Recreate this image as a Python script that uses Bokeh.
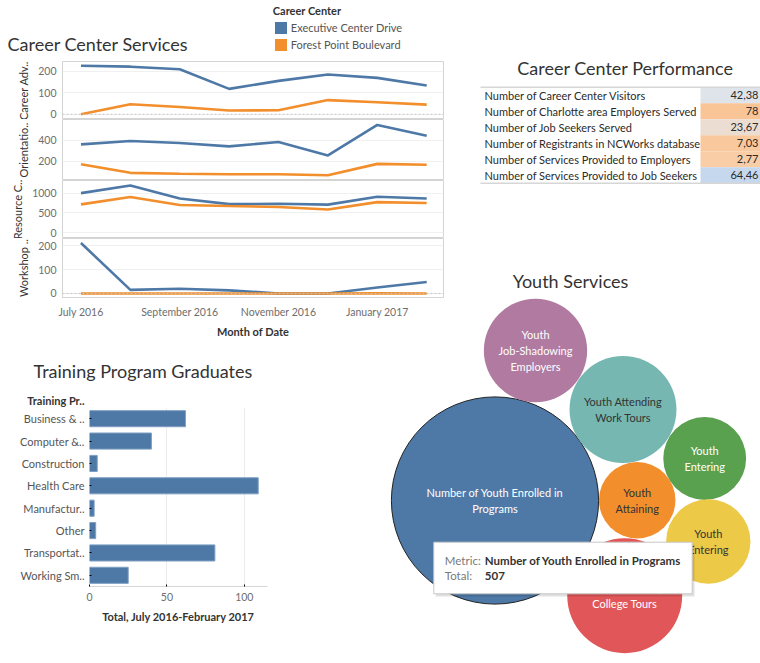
import math
from bokeh.plotting import figure
from bokeh.models import Range1d, FactorRange, FixedTicker, Span, GridBox, Title, Legend, LegendItem
from bokeh.layouts import column
from bokeh.embed import file_html
from bokeh.resources import INLINE
from bokeh.core.properties import value

# ---------------- data ----------------
months = ["Jul 2016", "Aug 2016", "Sep 2016", "Oct 2016", "Nov 2016", "Dec 2016", "Jan 2017", "Feb 2017"]
month_tick_months = ["Jul 2016", "Sep 2016", "Nov 2016", "Jan 2017"]
month_tick_labels = ["July 2016", "September 2016", "November 2016", "January 2017"]
centers = ["Executive Center Drive", "Forest Point Boulevard"]
service_names = ["Career Adv..", "Orientatio..", "Resource C..", "Workshop .."]

career_adv_exec = [225, 221, 209, 118, 155, 185, 169, 134]
career_adv_forest = [0, 47, 34, 18, 19, 66, 56, 45]
orientation_exec = [361, 393, 374, 342, 384, 255, 548, 445]
orientation_forest = [171, 88, 79, 74, 74, 65, 174, 165]
resource_exec = [1000, 1193, 865, 721, 730, 708, 908, 865]
resource_forest = [715, 901, 700, 672, 650, 586, 772, 751]
workshop_exec = [212, 15, 20, 13, 0, 0, 25, 48]
workshop_forest = [0, 0, 0, 0, 0, 0, 1, 0]

perf_metrics = [
    "Number of Career Center Visitors",
    "Number of Charlotte area Employers Served",
    "Number of Job Seekers Served",
    "Number of Registrants in NCWorks database",
    "Number of Services Provided to Employers",
    "Number of Services Provided to Job Seekers",
]
perf_values = ["42,38", "78", "23,67", "7,03", "2,77", "64,46"]

training_programs = ["Business & ..", "Computer &..", "Construction", "Health Care",
                     "Manufactur..", "Other", "Transportat..", "Working Sm.."]
training_totals = [62, 40, 5, 109, 3, 4, 81, 25]

youth_metrics = ["Number of Youth Enrolled in\nPrograms", "Youth\nJob-Shadowing\nEmployers",
                 "Youth Attending\nWork Tours", "Youth\nEntering", "Youth\nAttaining",
                 "Youth\nEntering", "Youth Attending\nCollege Tours"]
youth_totals = [507, 126, 135, 81, 69, 84, 156]
tooltip_metric = "Number of Youth Enrolled in Programs"
tooltip_total = "507"

# ---------------- styles / layout ----------------
FONT = "Lato"
BLUE = "#4e79a7"
ORANGE = "#f28e2b"
TITLE_C = "#333333"
TICK_C = "#6e6e6e"
TICK_SIZE = "10.5px"
NAN = float("nan")
perf_colors = ["#dfe4ea", "#f9c597", "#ecddd2", "#f9c99d", "#f9cea7", "#c6d8ee"]
youth_colors = ["#4e79a7", "#b07aa1", "#76b7b2", "#59a14f", "#f28e2b", "#edc948", "#e15759"]
youth_text_colors = ["white", "white", "#333333", "white", "#333333", "#333333", "white"]
youth_line_colors = ["#222222", None, None, None, None, None, None]
bubble_cx = [494.5, 535.0, 622.5, 704.2, 636.7, 707.8, 624.2]
bubble_cy = [500.0, 350.0, 409.0, 458.0, 499.7, 541.0, 595.2]
R_SCALE = 103.6 / math.sqrt(max(youth_totals))


def blank(w, h, xr, yr):
    p = figure(width=w, height=h, x_range=Range1d(*xr), y_range=Range1d(*yr),
               output_backend="svg", toolbar_location=None, min_border=0,
               x_axis_location=None, y_axis_location=None)
    p.grid.visible = False
    p.outline_line_color = None
    return p


def txt(p, x, y, t, size="11px", color=TITLE_C, align="left", bold=False, **kw):
    p.text(x=x, y=y, text=t, text_font=value(FONT), text_font_size=size,
           text_color=color, text_align=align, text_baseline="middle",
           text_font_style="bold" if bold else "normal", **kw)


def style_title(t, size="18px", bold=False, color=TITLE_C):
    t.text_font = FONT
    t.text_font_size = size
    t.text_font_style = "bold" if bold else "normal"
    t.text_color = color


# ---------------- header of the line chart (title + legend) ----------------
hdr = blank(455, 61, (0, 455), (61, 0))
txt(hdr, [7], [43], ["Career Center Services"], size="18px")
# legend proxies: one undrawn (NaN) row each, so the legend can draw its colour swatch
sw_exec = hdr.quad(left=[NAN], right=[NAN], top=[NAN], bottom=[NAN], fill_color=BLUE, line_color=None)
sw_forest = hdr.quad(left=[NAN], right=[NAN], top=[NAN], bottom=[NAN], fill_color=ORANGE, line_color=None)
leg = Legend(items=[LegendItem(label=centers[0], renderers=[sw_exec]),
                    LegendItem(label=centers[1], renderers=[sw_forest])],
             location=(272.8, 9), title="Career Center",
             title_text_font=FONT, title_text_font_size="11px", title_text_font_style="bold",
             title_text_color="#333333", title_standoff=3,
             label_text_font=FONT, label_text_font_size="11px", label_text_color="#555555",
             glyph_width=15, glyph_height=15, label_height=15, label_standoff=3,
             spacing=2, padding=0, margin=0, border_line_color=None,
             background_fill_alpha=0)
hdr.add_layout(leg)

# ---------------- line chart (Career Center Services) ----------------
xr = Range1d(-0.374, 7.34)
month_idx = list(range(len(months)))
specs = [
    (service_names[0], career_adv_exec, career_adv_forest, (-24, 245), [0, 100, 200], 58, True),
    (service_names[1], orientation_exec, orientation_forest, (14.5, 600), [200, 400], 61, False),
    (service_names[2], resource_exec, resource_forest, (-150, 1320), [0, 500, 1000], 58, False),
    (service_names[3], workshop_exec, workshop_forest, (-17, 231), [0, 100, 200], 59, True),
]
panels = []
for k, (name, ev, fv, yr, ticks, h, zero) in enumerate(specs):
    last = k == len(specs) - 1
    p = figure(frame_width=381, frame_height=h, x_range=xr, y_range=Range1d(*yr),
               output_backend="svg", toolbar_location=None, min_border=0,
               min_border_left=62, min_border_right=12,
               min_border_bottom=48 if last else 0,
               x_axis_location="below" if last else None)
    p.outline_line_color = "#d4d4d4"
    p.xgrid.visible = False
    p.ygrid.grid_line_color = "#f0f0f0"
    ya = p.yaxis[0]
    ya.ticker = FixedTicker(ticks=ticks)
    ya.axis_label = name
    ya.axis_label_text_font = FONT
    ya.axis_label_text_font_size = "11px"
    ya.axis_label_text_font_style = "normal"
    ya.axis_label_text_color = "#333333"
    ya.axis_label_standoff = 5
    ya.major_label_text_font = FONT
    ya.major_label_text_font_size = TICK_SIZE
    ya.major_label_text_color = TICK_C
    ya.major_label_standoff = 6
    ya.major_tick_out = 0
    ya.major_tick_in = 0
    ya.minor_tick_out = 0
    ya.minor_tick_in = 0
    ya.axis_line_color = None
    if zero:
        p.add_layout(Span(location=0, dimension="width", line_color="#c4c4c4", line_dash="2 2", line_width=1))
    p.line(month_idx, ev, line_color=BLUE, line_width=2.6)
    p.line(month_idx, fv, line_color=ORANGE, line_width=2.6)
    if last:
        xa = p.xaxis[0]
        xa.ticker = FixedTicker(ticks=[months.index(m) for m in month_tick_months])
        xa.major_label_overrides = {months.index(m): l for m, l in zip(month_tick_months, month_tick_labels)}
        xa.major_label_text_font = FONT
        xa.major_label_text_font_size = TICK_SIZE
        xa.major_label_text_color = TICK_C
        xa.major_label_standoff = 8
        xa.major_tick_out = 0
        xa.major_tick_in = 0
        xa.minor_tick_out = 0
        xa.minor_tick_in = 0
        xa.axis_line_color = None
        xa.axis_label = "Month of Date"
        xa.axis_label_text_font = FONT
        xa.axis_label_text_font_size = "11px"
        xa.axis_label_text_font_style = "bold"
        xa.axis_label_text_color = "#333333"
        xa.axis_label_standoff = 4
    panels.append(p)
line_col = column(*panels)

# ---------------- table (Career Center Performance) ----------------
rows = list(range(len(perf_metrics)))
tb = blank(305, 265, (455, 760), (10.63, -5.91))
txt(tb, [625], [-1.67], ["Career Center Performance"], size="18px", align="center")
tb.quad(left=700, right=762, top=[r - 0.5 for r in rows], bottom=[r + 0.5 for r in rows],
        fill_color=perf_colors, line_color=None)
tb.segment(x0=[480, 480], x1=[762, 762], y0=[-0.5, len(rows) - 0.5], y1=[-0.5, len(rows) - 0.5],
           line_color="#d6d6d6", line_width=1.5)
txt(tb, [484] * len(rows), rows, perf_metrics, color="#2b2b2b")
txt(tb, [758] * len(rows), rows, perf_values, color="#2b2b2b", align="right")

# ---------------- bar chart (Training Program Graduates) ----------------
pb = figure(frame_width=178, frame_height=179, x_range=Range1d(0, 115),
            y_range=FactorRange(factors=list(reversed(training_programs))),
            output_backend="svg", toolbar_location=None, min_border=0,
            min_border_left=89, min_border_right=118, min_border_top=62, min_border_bottom=69,
            title=None)
sub = Title(text="Training Pr..", align="right", offset=183, standoff=2)
style_title(sub, size="11px", bold=True)
main = Title(text="Training Program Graduates", align="left", offset=-56, standoff=18)
style_title(main)
pb.add_layout(sub, "above")
pb.add_layout(main, "above")
pb.outline_line_color = None
pb.ygrid.visible = False
pb.xgrid.grid_line_color = "#ececec"
pb.xaxis.ticker = FixedTicker(ticks=[0, 50, 100])
pb.hbar(y=training_programs, right=training_totals, left=0, height=0.72,
        fill_color=BLUE, line_color="#7f9fc2", line_width=1)
xa = pb.xaxis[0]
xa.major_label_text_font = FONT
xa.major_label_text_font_size = TICK_SIZE
xa.major_label_text_color = TICK_C
xa.major_label_standoff = 6
xa.major_tick_out = 0
xa.minor_tick_out = 0
xa.axis_line_color = "#d6d6d6"
xa.axis_label = "Total, July 2016-February 2017"
xa.axis_label_text_font = FONT
xa.axis_label_text_font_size = "11px"
xa.axis_label_text_font_style = "bold"
xa.axis_label_text_color = "#333333"
xa.axis_label_standoff = 6
ya = pb.yaxis[0]
ya.major_label_text_font = FONT
ya.major_label_text_font_size = "11px"
ya.major_label_text_color = "#555555"
ya.major_label_standoff = 5
ya.major_tick_out = 0
ya.axis_line_color = None

# ---------------- bubbles (Youth Services) ----------------
bb = blank(375, 390, (385, 760), (655, 265))
bb.background_fill_color = None
bb.border_fill_color = None
txt(bb, [570], [280], ["Youth Services"], size="18px", align="center")
radii = [R_SCALE * math.sqrt(v) for v in youth_totals]
bb.circle(x=bubble_cx, y=bubble_cy, radius=radii, fill_color=youth_colors,
          line_color=[c if c else "white" for c in youth_line_colors],
          line_alpha=[1 if c else 0 for c in youth_line_colors], line_width=1)
bb.text(x=bubble_cx, y=bubble_cy, text=youth_metrics, text_font=value(FONT),
        text_font_size="11px", text_color=youth_text_colors, text_align="center",
        text_baseline="middle", text_line_height=1.25)
# tooltip (as captured in the screenshot)
bb.quad(left=[435.3], right=[694], top=[544], bottom=[596], fill_color="black", fill_alpha=0.12, line_color=None)
bb.quad(left=[433.3], right=[691.7], top=[541.7], bottom=[593.3], fill_color="white", line_color="#c8c8c8")
txt(bb, [444.3, 444.3], [560, 575], ["Metric:", "Total:"], size="11.5px", color="#7a7a7a")
txt(bb, [484.3, 484.3], [560, 575], [tooltip_metric, tooltip_total], size="11.5px", color="#333333", bold=True)

# ---------------- dashboard grid (each block wrapped so frames are not cross-aligned) ----------------
grid = GridBox(children=[(column(hdr), 0, 0, 1, 2), (line_col, 1, 0, 2, 2), (column(tb), 0, 2, 2, 1),
                         (column(pb), 3, 0), (column(bb), 2, 1, 2, 2)],
               rows=["61px", "204px", "80px", "310px"], cols=["385px", "70px", "305px"])

open("out.html", "w").write(file_html(grid, INLINE, title="Career Center Dashboard"))
